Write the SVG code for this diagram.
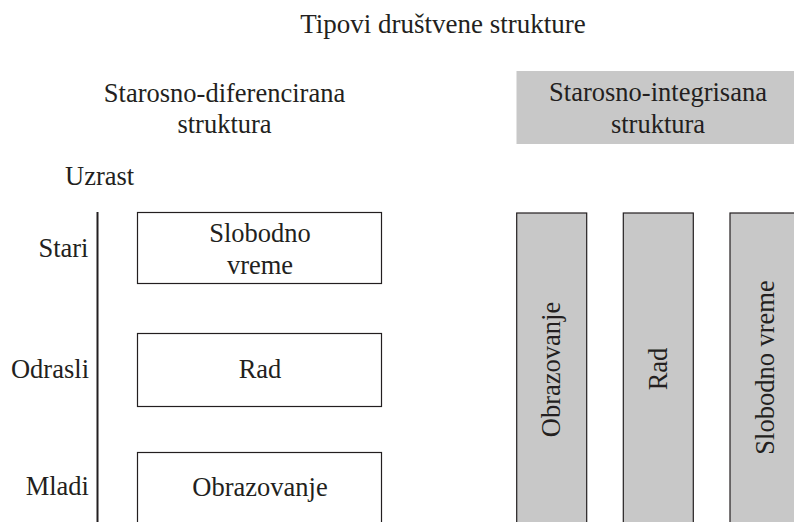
<svg xmlns="http://www.w3.org/2000/svg" width="794" height="522" viewBox="0 0 794 522">
<style>
text{font-family:"Liberation Serif","DejaVu Serif",serif;font-size:26.5px;fill:#231f20}
.c{text-anchor:middle}
.r{text-anchor:end}
.box{fill:#fff;stroke:#231f20;stroke-width:1.2}
.gbox{fill:#c8c8c8;stroke:#231f20;stroke-width:1.2}
</style>
<rect width="794" height="522" fill="#fff"/>
<text id="title" class="c" x="443" y="33" style="font-size:27px">Tipovi društvene strukture</text>
<g id="hdr-left">
<text class="c" x="224.5" y="102">Starosno-diferencirana</text>
<text class="c" x="224.5" y="133">struktura</text>
</g>
<g id="hdr-right">
<rect x="516.5" y="71" width="280" height="73" fill="#c8c8c8"/>
<text class="c" x="658" y="101">Starosno-integrisana</text>
<text class="c" x="658" y="133">struktura</text>
</g>
<text id="uzrast" x="65" y="185">Uzrast</text>
<g id="axis">
<line x1="97.5" y1="212" x2="97.5" y2="522" stroke="#231f20" stroke-width="2"/>
<text class="r" x="88.5" y="257">Stari</text>
<text class="r" x="89" y="378">Odrasli</text>
<text class="r" x="89" y="495">Mladi</text>
</g>
<g id="box-slobodno">
<rect class="box" x="137.5" y="212.5" width="244" height="71"/>
<text class="c" x="260" y="242">Slobodno</text>
<text class="c" x="260" y="274">vreme</text>
</g>
<g id="box-rad">
<rect class="box" x="137.5" y="333.5" width="244" height="73"/>
<text class="c" x="260" y="378">Rad</text>
</g>
<g id="box-obrazovanje">
<rect class="box" x="137.5" y="452.5" width="244" height="80"/>
<text class="c" x="260" y="496">Obrazovanje</text>
</g>
<g id="col-obrazovanje">
<rect class="gbox" x="516.7" y="213" width="70" height="320"/>
<text class="c" transform="translate(559.5 369.5) rotate(-90)">Obrazovanje</text>
</g>
<g id="col-rad">
<rect class="gbox" x="623.3" y="213" width="70" height="320"/>
<text class="c" transform="translate(667 369) rotate(-90)">Rad</text>
</g>
<g id="col-slobodno">
<rect class="gbox" x="730" y="213" width="70" height="320"/>
<text class="c" transform="translate(774 367.5) rotate(-90)">Slobodno vreme</text>
</g>
</svg>
